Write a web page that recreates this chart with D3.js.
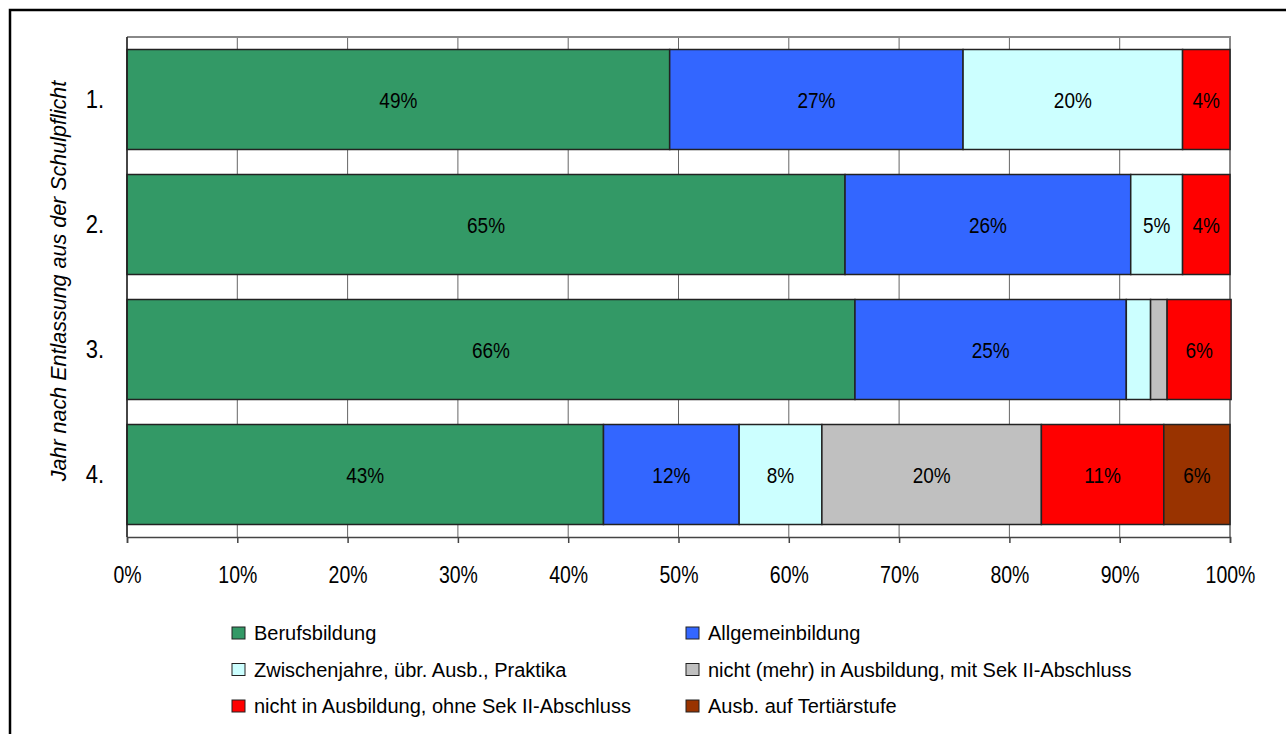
<!DOCTYPE html>
<html>
<head>
<meta charset="utf-8">
<script src="https://cdn.jsdelivr.net/npm/d3@7"></script>
<style>
  body { margin: 0; background: #fff; }
  text { font-family: "Liberation Sans", Arial, sans-serif; }
</style>
</head>
<body>
<svg width="1286" height="734"></svg>
<script>
// categories (year after leaving compulsory school)
var years = ["1.", "2.", "3.", "4."];

// series, in stacking order
var seriesNames = [
  "Berufsbildung",
  "Allgemeinbildung",
  "Zwischenjahre, übr. Ausb., Praktika",
  "nicht (mehr) in Ausbildung, mit Sek II-Abschluss",
  "nicht in Ausbildung, ohne Sek II-Abschluss",
  "Ausb. auf Tertiärstufe"
];
var seriesColors = ["#339966", "#3366FF", "#CCFFFF", "#C0C0C0", "#FF0000", "#993300"];

// values in percent, one array per series (years 1..4)
var berufsbildung    = [49.2, 65.1, 66.0, 43.2];
var allgemeinbildung = [26.6, 25.9, 24.6, 12.3];
var zwischenjahre    = [19.9, 4.7, 2.2, 7.5];
var mitAbschluss     = [0, 0, 1.5, 19.9];
var ohneAbschluss    = [4.3, 4.3, 5.8, 11.1];
var tertiaer         = [0, 0, 0, 6.0];

var xTicks = [0, 10, 20, 30, 40, 50, 60, 70, 80, 90, 100];

function main() {
  var svg = d3.select("svg");
  var all = [berufsbildung, allgemeinbildung, zwischenjahre, mitAbschluss, ohneAbschluss, tertiaer];
  var stretch = 1.2; // text in the original is a bit taller than wide

  // outer frame
  svg.append("rect")
    .attr("x", 10).attr("y", 10)
    .attr("width", 1290).attr("height", 740)
    .attr("fill", "none").attr("stroke", "#000").attr("stroke-width", 2.5);

  var left = 127, right = 1230, top = 37, bottom = 537;

  var x = d3.scaleLinear().domain([0, 100]).range([left, right]);
  var y = d3.scaleBand().domain(years).range([top, bottom]).paddingInner(0.2).paddingOuter(0.1);

  // vertical gridlines
  svg.append("g").selectAll("line")
    .data(xTicks)
    .enter().append("line")
    .attr("x1", function(d) { return x(d); })
    .attr("x2", function(d) { return x(d); })
    .attr("y1", top).attr("y2", bottom)
    .attr("stroke", "#666").attr("stroke-width", 1);

  // plot frame top/right
  svg.append("path")
    .attr("d", "M" + left + "," + top + "H" + right + "V" + bottom)
    .attr("fill", "none").attr("stroke", "#888").attr("stroke-width", 2);

  // stacked data
  var rows = years.map(function(yr, i) {
    var o = { year: yr };
    seriesNames.forEach(function(s, j) { o[s] = all[j][i]; });
    return o;
  });
  var stack = d3.stack().keys(seriesNames)(rows);

  var layers = svg.append("g").selectAll("g")
    .data(stack)
    .enter().append("g")
    .attr("fill", function(d, i) { return seriesColors[i]; });

  layers.selectAll("rect")
    .data(function(d) { return d.filter(function(p) { return p[1] - p[0] > 0; }); })
    .enter().append("rect")
    .attr("x", function(d) { return x(d[0]); })
    .attr("y", function(d) { return y(d.data.year); })
    .attr("width", function(d) { return x(d[1]) - x(d[0]); })
    .attr("height", y.bandwidth())
    .attr("stroke", "#222").attr("stroke-width", 1.5);

  // labels only on segments wide enough
  layers.selectAll("text")
    .data(function(d) { return d.filter(function(p) { return p[1] - p[0] >= 3; }); })
    .enter().append("text")
    .attr("transform", function(d) {
      return "translate(" + ((x(d[0]) + x(d[1])) / 2) + "," + (y(d.data.year) + y.bandwidth() / 2) + ") scale(1," + stretch + ")";
    })
    .attr("dy", "0.36em")
    .attr("text-anchor", "middle")
    .attr("font-size", "19px")
    .attr("fill", "#000")
    .text(function(d) { return Math.round(d[1] - d[0]) + "%"; });

  // x axis
  var xAxis = svg.append("g")
    .attr("transform", "translate(0," + bottom + ")")
    .call(d3.axisBottom(x).tickValues(xTicks).tickSize(6)
      .tickFormat(function(d) { return d + "%"; }));
  xAxis.select(".domain").attr("stroke", "#444").attr("stroke-width", 1.5);
  xAxis.selectAll(".tick line").attr("stroke", "#444").attr("stroke-width", 1.5);
  xAxis.selectAll("text")
    .attr("y", 0).attr("dy", "0.36em")
    .attr("transform", "translate(0,38) scale(1," + stretch + ")")
    .attr("font-size", "19.5px").attr("fill", "#000")
    .attr("font-family", "Liberation Sans, Arial, sans-serif");

  // y axis
  var yAxis = svg.append("g")
    .attr("transform", "translate(" + left + ",0)")
    .call(d3.axisLeft(y).tickSize(0));
  yAxis.select(".domain").attr("stroke", "#222").attr("stroke-width", 1.5)
    .attr("d", "M0," + top + "V" + bottom);
  yAxis.selectAll("text")
    .attr("x", 0).attr("dy", "0.36em")
    .attr("transform", "translate(-23,-1) scale(1," + stretch + ")")
    .attr("font-size", "22px").attr("fill", "#000")
    .attr("font-family", "Liberation Sans, Arial, sans-serif");

  // y axis title
  svg.append("text")
    .attr("transform", "translate(66," + ((top + bottom) / 2 - 6) + ") rotate(-90)")
    .attr("text-anchor", "middle")
    .attr("font-size", "21.5px")
    .attr("font-style", "italic")
    .text("Jahr nach Entlassung aus der Schulpflicht");

  // legend
  var legend = svg.append("g").selectAll("g")
    .data(seriesNames)
    .enter().append("g")
    .attr("transform", function(d, i) {
      return "translate(" + (i % 2 === 0 ? 232 : 686) + "," + (633 + Math.floor(i / 2) * 36.5) + ")";
    });
  legend.append("rect")
    .attr("x", 0).attr("y", -6)
    .attr("width", 13).attr("height", 12)
    .attr("fill", function(d, i) { return seriesColors[i]; })
    .attr("stroke", "#222").attr("stroke-width", 1);
  legend.append("text")
    .attr("x", 22).attr("y", 7)
    .attr("font-size", "20px")
    .text(function(d) { return d; });
}
main();
</script>
</body>
</html>
